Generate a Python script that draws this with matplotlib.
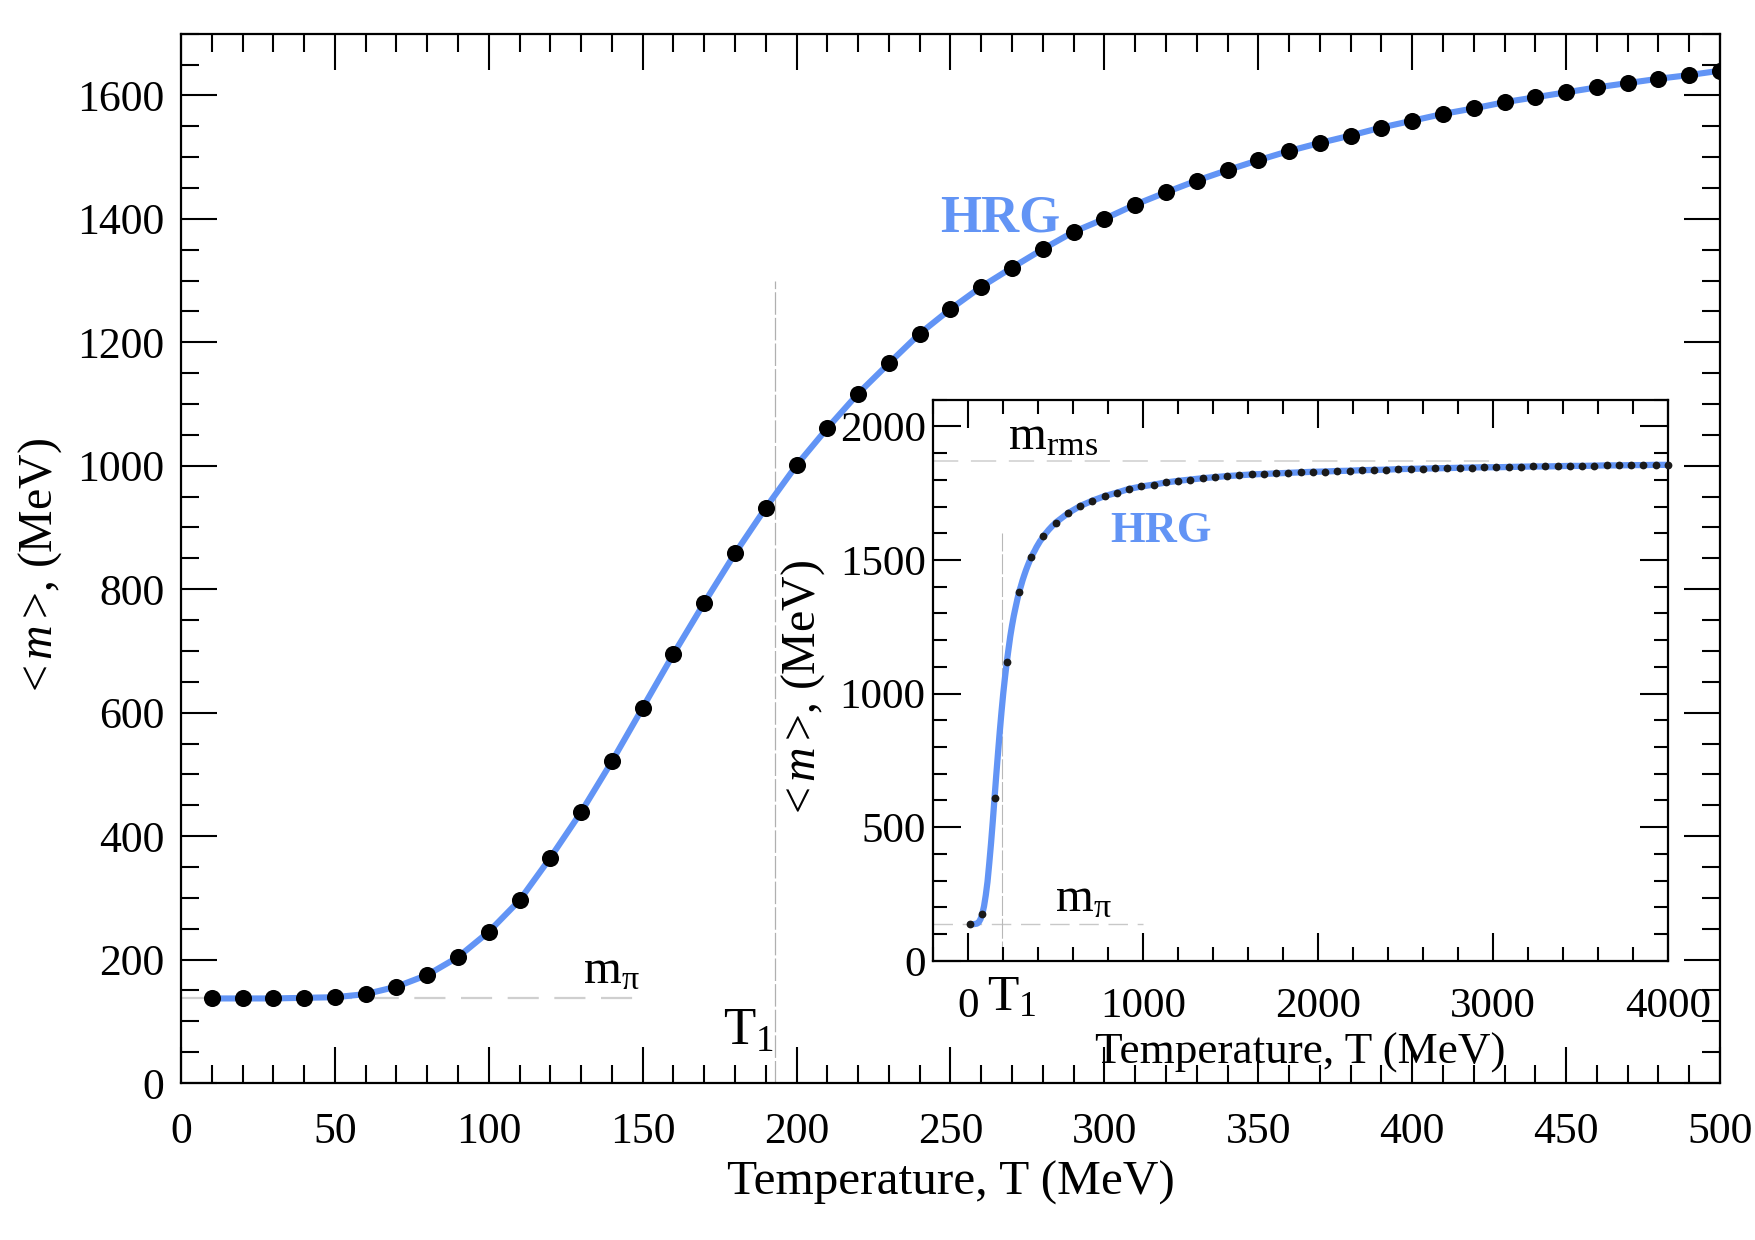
import numpy as np
import matplotlib
matplotlib.use("Agg")
import matplotlib.pyplot as plt
from matplotlib.ticker import MultipleLocator, FixedLocator
import matplotlib.transforms as mtransforms

plt.rcParams['font.family'] = ['Liberation Serif', 'DejaVu Serif']
plt.rcParams['mathtext.fontset'] = 'custom'
plt.rcParams['mathtext.rm'] = 'Liberation Serif'
plt.rcParams['mathtext.it'] = 'Liberation Serif:italic'
plt.rcParams['mathtext.bf'] = 'Liberation Serif:bold'

# ---------------- data ----------------
T_main = [10, 20, 30, 40, 50, 60, 70, 80, 90, 100,
          110, 120, 130, 140, 150, 160, 170, 180, 190, 200,
          210, 220, 230, 240, 250, 260, 270, 280, 290, 300,
          310, 320, 330, 340, 350, 360, 370, 380, 390, 400,
          410, 420, 430, 440, 450, 460, 470, 480, 490, 500]
m_main = [137, 137, 137, 138, 139, 144, 156, 175, 204, 245,
          296, 365, 439, 521, 608, 695, 778, 858, 932, 1001,
          1061, 1117, 1166, 1214, 1254, 1290, 1321, 1351, 1379, 1400,
          1423, 1443, 1462, 1479, 1495, 1510, 1523, 1535, 1548, 1559,
          1570, 1579, 1589, 1597, 1605, 1613, 1620, 1627, 1633, 1640]

T_inset = [10, 80, 150, 220, 290, 360, 430, 500, 570, 640,
           710, 780, 850, 920, 990, 1060, 1130, 1200, 1270, 1340,
           1410, 1480, 1550, 1620, 1690, 1760, 1830, 1900, 1970, 2040,
           2110, 2180, 2250, 2320, 2390, 2460, 2530, 2600, 2670, 2740,
           2810, 2880, 2950, 3020, 3090, 3160, 3230, 3300, 3370, 3440,
           3510, 3580, 3650, 3720, 3790, 3860, 3930, 4000]
m_inset = [137, 175, 608, 1117, 1379, 1510, 1589, 1640, 1675, 1702,
           1722, 1739, 1752, 1766, 1775, 1782, 1790, 1796, 1801, 1806,
           1810, 1814, 1817, 1820, 1822, 1824, 1826, 1828, 1830, 1831,
           1833, 1834, 1836, 1837, 1838, 1840, 1841, 1842, 1843, 1844,
           1845, 1846, 1847, 1847, 1848, 1849, 1850, 1850, 1851, 1852,
           1852, 1853, 1854, 1854, 1855, 1855, 1856, 1856]

m_pi = 137
m_rms = 1872
T1 = 193

main_xticks = [0, 50, 100, 150, 200, 250, 300, 350, 400, 450, 500]
main_yticks = [0, 200, 400, 600, 800, 1000, 1200, 1400, 1600]
inset_xticks = [0, 1000, 2000, 3000, 4000]
inset_yticks = [0, 500, 1000, 1500, 2000]

blue = '#6294F5'
ylab = r'<$\,m\,$>, (MeV)'
pi_lab = r'm$_{\mathrm{\pi}}$'

# ---------------- figure ----------------
fig = plt.figure(figsize=(17.55, 12.4), dpi=100)
ax = fig.add_axes([0.10313, 0.12661, 0.87692, 0.84621])
ax.set_xlim(0, 500)
ax.set_ylim(0, 1700)

# reference lines
ax.plot([0, 150], [m_pi, m_pi], color='#cfcfcf', lw=1.6, dashes=(14, 7), zorder=1)
ax.plot([T1, T1], [0, 1300], color='#b0b0b0', lw=0.9, dashes=(18, 2.5), zorder=1)

ax.plot(T_main, m_main, color=blue, lw=4.4, zorder=2, solid_capstyle='round')
ax.plot(T_main, m_main, 'o', color='black', ms=12.3, zorder=3, mew=0)

ax.text(266.3, 1379.5, 'HRG', color=blue, fontsize=38, fontweight='bold',
        ha='center', va='baseline')
ax.text(130.5, 161.6, pi_lab, fontsize=35, ha='left', va='baseline')
ax.text(176, 61.6, r'T$_{1}$', fontsize=38, ha='left', va='baseline')

ax.xaxis.set_major_locator(FixedLocator(main_xticks))
ax.yaxis.set_major_locator(FixedLocator(main_yticks))
ax.xaxis.set_minor_locator(MultipleLocator(10))
ax.yaxis.set_minor_locator(MultipleLocator(50))
ax.tick_params(which='both', direction='in', top=True, right=True, width=1.5,
               labelsize=31.5)
ax.tick_params(which='major', length=26)
ax.tick_params(which='minor', length=13)
ax.tick_params(axis='x', which='major', pad=21)
ax.tick_params(axis='y', which='major', pad=12)
for s in ax.spines.values():
    s.set_linewidth(1.6)

ax.set_xlabel('Temperature, T (MeV)', fontsize=35.5)
ax.set_ylabel(ylab, fontsize=34.5)
ax.xaxis.set_label_coords(0.5, -0.0745)
ax.yaxis.set_label_coords(-0.0763, 0.4937)

# ---------------- inset ----------------
ax2 = fig.add_axes([0.5318, 0.2252, 0.4185, 0.4525])
ax2.set_xlim(-200, 4000)
ax2.set_ylim(0, 2100)
ax2.set_facecolor('white')

ax2.plot([-200, 3000], [m_rms, m_rms], color='#d5d5d5', lw=1.3, dashes=(14, 7), zorder=1)
ax2.plot([-200, 1000], [m_pi, m_pi], color='#c8c8c8', lw=1.0, dashes=(14, 7), zorder=1)
ax2.plot([T1, T1], [0, 1600], color='#b8b8b8', lw=0.8, dashes=(18, 2.5), zorder=1)

line_T = T_main + [t for t in T_inset if t > T_main[-1]]
line_m = m_main + [m for t, m in zip(T_inset, m_inset) if t > T_main[-1]]
ax2.plot(line_T, line_m, color=blue, lw=4.5, zorder=2, solid_capstyle='round')
ax2.plot(T_inset, m_inset, 'o', color='#1a1a1a', ms=5.6, mew=0, zorder=3, clip_on=False)

ax2.text(1101, 1567, 'HRG', color=blue, fontsize=32, fontweight='bold',
         ha='center', va='baseline')
ax2.text(229, 1915, r'm$_{\mathrm{rms}}$', fontsize=35, ha='left', va='baseline')
ax2.text(496, 184, pi_lab, fontsize=35, ha='left', va='baseline')
trans = mtransforms.blended_transform_factory(ax2.transData, ax2.transAxes)
ax2.text(107, -0.0879, r'T$_{1}$', fontsize=37, ha='left', va='baseline',
         transform=trans, clip_on=False)

ax2.xaxis.set_major_locator(FixedLocator(inset_xticks))
ax2.yaxis.set_major_locator(FixedLocator(inset_yticks))
ax2.xaxis.set_minor_locator(MultipleLocator(200))
ax2.yaxis.set_minor_locator(MultipleLocator(100))
ax2.tick_params(which='both', direction='in', top=True, right=True, width=1.5,
                labelsize=31)
ax2.tick_params(which='major', length=20)
ax2.tick_params(which='minor', length=10)
ax2.tick_params(axis='x', which='major', pad=19.5)
ax2.tick_params(axis='y', which='major', pad=5.5)
for s in ax2.spines.values():
    s.set_linewidth(1.6)

ax2.set_xlabel('Temperature, T (MeV)', fontsize=32.5)
ax2.set_ylabel(ylab, fontsize=34.5)
ax2.xaxis.set_label_coords(0.5, -0.1278)
ax2.yaxis.set_label_coords(-0.1447, 0.4883)

fig.savefig('out.png', dpi=100)
